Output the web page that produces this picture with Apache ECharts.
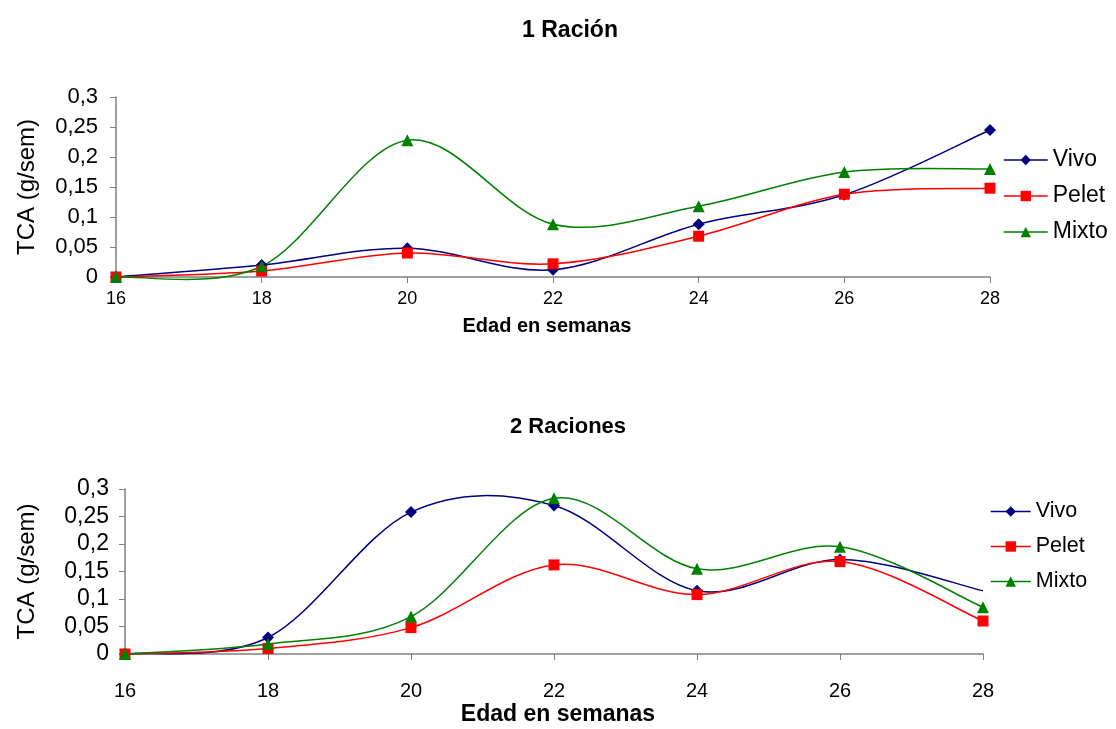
<!DOCTYPE html>
<html>
<head>
<meta charset="utf-8">
<script src="https://cdn.jsdelivr.net/npm/echarts@6/dist/echarts.min.js"></script>
<style>
html,body{margin:0;padding:0;background:#fff;}
#c{width:1116px;height:729px;}
</style>
</head>
<body>
<div id="c"></div>
<script>
// ---- data ----
const weeks = [16, 18, 20, 22, 24, 26, 28];
const seriesNames = ['Vivo', 'Pelet', 'Mixto'];
const titles = ['1 Ración', '2 Raciones'];
const xAxisName = 'Edad en semanas';
const yAxisName = 'TCA (g/sem)';

// 1 Ración
const vivo1  = [0, 0.020, 0.048, 0.012, 0.088, 0.137, 0.245];
const pelet1 = [0, 0.010, 0.040, 0.022, 0.068, 0.138, 0.148];
const mixto1 = [0, 0.018, 0.228, 0.088, 0.118, 0.175, 0.180];

// 2 Raciones
const vivo2  = [0, 0.030, 0.258, 0.270, 0.115, 0.172, 0.115];
const pelet2 = [0, 0.010, 0.048, 0.162, 0.108, 0.168, 0.060];
const mixto2 = [0, 0.018, 0.068, 0.283, 0.155, 0.195, 0.085];

const yTicks = {min: 0, max: 0.3, interval: 0.05};
const xTicks = {min: 16, max: 28, interval: 2};

// ---- styling ----
const colors = ['#000080', '#FF0000', '#008000'];
const symbols = ['diamond', 'rect', 'triangle'];
const symbolSizes = [12, 11, 12];
const FONT = 'Liberation Sans, Arial, sans-serif';

const pairs = (arr) => arr.map((v, i) => [weeks[i], v]);
const fmtY = (v) => String(+v.toFixed(2)).replace('.', ',');

const chart = echarts.init(document.getElementById('c'), null, {renderer: 'canvas'});

const gridCfg = [
  {left: 116, right: 126, top: 97, height: 180, xFont: 18, yFont: 22, nameFont: 24, xNameFont: 20, xNameGap: 39, xNamePad: [0, 12, 0, 0], yNameGap: 77, xMargin: 13, yMargin: 18},
  {left: 125, right: 133, top: 489, height: 165, xFont: 20, yFont: 23, nameFont: 24, xNameFont: 23, xNameGap: 49, xNamePad: [0, 0, 0, 8], yNameGap: 86, xMargin: 27, yMargin: 16}
];

const data = [[vivo1, pelet1, mixto1], [vivo2, pelet2, mixto2]];

// smooth curve (Catmull-Rom through the points, via the axes' coordinate mapping)
function curveRenderer(arr, color) {
  return function (params, api) {
    if (params.dataIndex !== 0) return null;
    const pts = arr.map((v, i) => api.coord([weeks[i], v]));
    const children = [];
    const n = pts.length;
    for (let i = 0; i < n - 1; i++) {
      const p0 = pts[Math.max(i - 1, 0)], p1 = pts[i], p2 = pts[i + 1], p3 = pts[Math.min(i + 2, n - 1)];
      children.push({
        type: 'bezierCurve',
        shape: {
          x1: p1[0], y1: p1[1], x2: p2[0], y2: p2[1],
          cpx1: p1[0] + (p2[0] - p0[0]) / 6, cpy1: p1[1] + (p2[1] - p0[1]) / 6,
          cpx2: p2[0] - (p3[0] - p1[0]) / 6, cpy2: p2[1] - (p3[1] - p1[1]) / 6
        },
        style: {stroke: color, lineWidth: 1.5, fill: 'none'}
      });
    }
    return {type: 'group', children: children};
  };
}

const legendBase = {
  orient: 'vertical', padding: 0, itemHeight: 13, itemGap: 12,
  lineStyle: {width: 1.5, opacity: 1},
  formatter: n => n.replace(/ 2$/, '')
};

const option = {
  backgroundColor: '#ffffff',
  animation: false,
  title: [
    {text: titles[0], left: 565, top: 14, textAlign: 'center',
     textStyle: {fontFamily: FONT, fontSize: 23, fontWeight: 'bold', color: '#000'}},
    {text: titles[1], left: 563, top: 411, textAlign: 'center',
     textStyle: {fontFamily: FONT, fontSize: 22, fontWeight: 'bold', color: '#000'}}
  ],
  legend: [
    Object.assign({}, legendBase, {data: seriesNames.slice(), left: 1003, top: 148, itemWidth: 44,
      textStyle: {fontFamily: FONT, fontSize: 23, color: '#000', lineHeight: 24}}),
    Object.assign({}, legendBase, {data: seriesNames.map(n => n + ' 2'), left: 990, top: 500, itemWidth: 40,
      textStyle: {fontFamily: FONT, fontSize: 21.5, color: '#000', lineHeight: 23}})
  ],
  grid: gridCfg.map(g => ({left: g.left, right: g.right, top: g.top, height: g.height, containLabel: false})),
  xAxis: gridCfg.map((g, i) => ({
    type: 'value', gridIndex: i, min: xTicks.min, max: xTicks.max, interval: xTicks.interval,
    name: xAxisName, nameLocation: 'middle', nameGap: g.xNameGap,
    nameTextStyle: {fontFamily: FONT, fontSize: g.xNameFont, fontWeight: 'bold', color: '#000', padding: g.xNamePad},
    axisLine: {lineStyle: {color: '#808080', width: 1.5}},
    axisTick: {show: true, length: 6, inside: false, lineStyle: {color: '#808080'}},
    axisLabel: {fontFamily: FONT, fontSize: g.xFont, color: '#000', margin: g.xMargin},
    splitLine: {show: false}
  })),
  yAxis: gridCfg.map((g, i) => ({
    type: 'value', gridIndex: i, min: yTicks.min, max: yTicks.max, interval: yTicks.interval,
    name: yAxisName, nameLocation: 'middle', nameGap: g.yNameGap, nameRotate: 90,
    nameTextStyle: {fontFamily: FONT, fontSize: g.nameFont, color: '#000'},
    axisLine: {show: true, lineStyle: {color: '#808080', width: 1.5}},
    axisTick: {show: true, length: 6, lineStyle: {color: '#808080'}},
    axisLabel: {fontFamily: FONT, fontSize: g.yFont, color: '#000', margin: g.yMargin, formatter: fmtY},
    splitLine: {show: false}
  })),
  series: []
};

data.forEach((group, gi) => {
  group.forEach((arr, si) => {
    // curve
    option.series.push({
      type: 'custom',
      name: '_curve_' + gi + '_' + si,
      coordinateSystem: 'cartesian2d',
      xAxisIndex: gi, yAxisIndex: gi,
      data: pairs(arr),
      encode: {x: 0, y: 1},
      renderItem: curveRenderer(arr, colors[si]),
      silent: true,
      z: 2
    });
    // markers (legend entry)
    const hideLast = (gi === 1 && si === 0);
    const pts = pairs(arr).map((p, i) => (hideLast && i === arr.length - 1) ? {value: p, symbol: 'none'} : p);
    option.series.push({
      type: 'line',
      name: gi === 0 ? seriesNames[si] : seriesNames[si] + ' 2',
      xAxisIndex: gi, yAxisIndex: gi,
      data: pts,
      symbol: symbols[si],
      symbolSize: symbolSizes[si],
      showAllSymbol: true,
      clip: false,
      color: colors[si],
      lineStyle: {color: colors[si], width: 1.5, opacity: 0},
      itemStyle: {color: colors[si]},
      z: 3 + si
    });
  });
});

chart.setOption(option);
</script>
</body>
</html>
